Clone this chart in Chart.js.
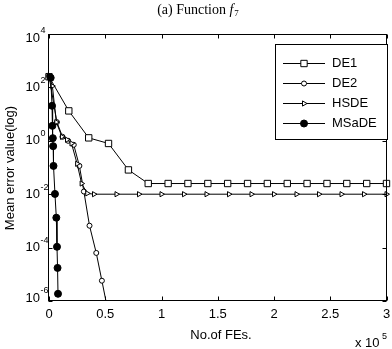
<!DOCTYPE html>
<html><head><meta charset="utf-8">
<script src="https://cdn.jsdelivr.net/npm/chart.js@4/dist/chart.umd.min.js"></script>
<style>html,body{margin:0;padding:0;background:#fff}#w{width:392px;height:349px;position:relative}</style>
</head><body><div id="w"><canvas id="c" width="392" height="349"></canvas></div>
<script>
// ---- data (x in units of 1e5 FEs, y as log10 of mean error) ----
const xTicks = [0, 0.5, 1, 1.5, 2, 2.5, 3];
const yTickExps = [4, 2, 0, -2, -4, -6];
const seriesNames = ['DE1', 'DE2', 'HSDE', 'MSaDE'];

const de1X = [0, 0.176, 0.353, 0.529, 0.706, 0.882, 1.059, 1.235, 1.412, 1.588, 1.765, 1.941, 2.118, 2.294, 2.471, 2.647, 2.824, 3.0];
const de1Log = [2.4, 1.12, 0.11, -0.1, -1.09, -1.6, -1.6, -1.6, -1.6, -1.6, -1.6, -1.6, -1.6, -1.6, -1.6, -1.6, -1.6, -1.6];

const de2X = [0, 0.07, 0.12, 0.17, 0.22, 0.27, 0.31, 0.36, 0.42, 0.47, 0.53];
const de2Log = [2.43, 0.7, 0.15, 0.0, -0.15, -0.94, -1.9, -3.18, -4.2, -5.24, -6.5];

const hsdeX = [0, 0.03, 0.065, 0.115, 0.16, 0.2, 0.25, 0.29, 0.34, 0.4, 0.6, 0.8, 1.0, 1.2, 1.4, 1.6, 1.8, 2.0, 2.2, 2.4, 2.6, 2.8, 3.0];
const hsdeLog = [2.43, 2.05, 0.7, 0.15, 0.04, -0.1, -0.86, -1.6, -1.97, -2, -2, -2, -2, -2, -2, -2, -2, -2, -2, -2, -2, -2, -2];

const msadeX = [0.015, 0.027, 0.03, 0.034, 0.037, 0.04, 0.053, 0.065, 0.071, 0.076, 0.08];
const msadeLog = [2.36, 1.31, 0.56, 0.1, -0.2, -0.94, -1.99, -2.88, -3.97, -4.76, -5.73];

// ---- build ----
function pts(xs, ls) { return xs.map((x, i) => ({ x: x, y: Math.pow(10, ls[i]) })); }
const common = { borderColor: '#000', borderWidth: 1, pointBorderColor: '#000', pointBorderWidth: 1, tension: 0, fill: false,
  clip: { left: 8, top: 8, right: 8, bottom: 0 } };
const styles = [
  { pointStyle: 'rect', pointRadius: 4.5, pointBackgroundColor: '#fff', pointRotation: 0, order: 3 },
  { pointStyle: 'circle', pointRadius: 2.5, pointBackgroundColor: '#fff', pointRotation: 0, order: 2 },
  { pointStyle: 'triangle', pointRadius: 3, pointBackgroundColor: '#fff', pointRotation: 90, order: 1 },
  { pointStyle: 'circle', pointRadius: 3.5, pointBackgroundColor: '#000', pointRotation: 0, order: 0 }
];
const seriesData = [pts(de1X, de1Log), pts(de2X, de2Log), pts(hsdeX, hsdeLog), pts(msadeX, msadeLog)];
const datasets = seriesNames.map((n, i) => Object.assign({}, common, styles[i], { label: n, data: seriesData[i] }));

const SANS = '"Liberation Sans", Arial, sans-serif';
const SERIF = '"Liberation Serif", "Times New Roman", serif';

const deco = {
  id: 'deco',
  afterDraw(chart) {
    const ctx = chart.ctx, a = chart.chartArea;
    const xs = chart.scales.x, ys = chart.scales.y;
    ctx.save();
    ctx.strokeStyle = '#000'; ctx.fillStyle = '#000'; ctx.lineWidth = 1;
    const L = Math.round(a.left) - 0.5, R = Math.round(a.right) - 0.5, T = Math.round(a.top) + 0.5, B = Math.round(a.bottom) - 0.5;
    ctx.strokeRect(L, T, R - L, B - T);
    // ticks
    ctx.beginPath();
    xTicks.forEach(v => {
      const x = Math.round(xs.getPixelForValue(v)) + 0.5;
      ctx.moveTo(x, B); ctx.lineTo(x, B - 4);
      ctx.moveTo(x, T); ctx.lineTo(x, T + 4);
    });
    yTickExps.forEach(e => {
      const y = Math.round(ys.getPixelForValue(Math.pow(10, e))) + 0.5;
      ctx.moveTo(L, y); ctx.lineTo(L + 4, y);
      ctx.moveTo(R, y); ctx.lineTo(R - 4, y);
    });
    ctx.stroke();
    // x tick labels
    ctx.font = '13px ' + SANS; ctx.textAlign = 'center'; ctx.textBaseline = 'middle';
    xTicks.forEach(v => { ctx.fillText(String(v), xs.getPixelForValue(v), 314); });
    // y tick labels
    yTickExps.forEach((e, i) => {
      let y = ys.getPixelForValue(Math.pow(10, e));
      if (i === 0) y += 4; else if (i === yTickExps.length - 1) y -= 3;
      ctx.font = '13px ' + SANS; ctx.textAlign = 'right'; ctx.textBaseline = 'middle';
      ctx.fillText('10', 40, y);
      ctx.font = '9px ' + SANS; ctx.textAlign = 'left'; ctx.textBaseline = 'middle';
      ctx.fillText(String(e), 40.5, y - 7);
    });
    // x title + multiplier
    ctx.font = '13px ' + SANS; ctx.textAlign = 'center'; ctx.textBaseline = 'middle';
    ctx.fillText('No.of FEs.', 221, 335);
    ctx.textAlign = 'left';
    ctx.fillText('x 10', 355, 343);
    ctx.font = '9px ' + SANS;
    ctx.fillText('5', 382, 337);
    // y title
    ctx.save();
    ctx.translate(10, 168); ctx.rotate(-Math.PI / 2);
    ctx.font = '13px ' + SANS; ctx.textAlign = 'center'; ctx.textBaseline = 'middle';
    ctx.fillText('Mean error value(log)', 0, 0);
    ctx.restore();
    // title
    const p1 = '(a) Function ', p2 = 'f', p3 = '7';
    ctx.textBaseline = 'alphabetic'; ctx.textAlign = 'left';
    ctx.font = '14px ' + SERIF; const w1 = ctx.measureText(p1).width;
    ctx.font = 'italic 14px ' + SERIF; const w2 = ctx.measureText(p2).width;
    ctx.font = '9px ' + SERIF; const w3 = ctx.measureText(p3).width;
    let tx = 198 - (w1 + w2 + w3 + 1) / 2;
    ctx.font = '14px ' + SERIF; ctx.fillText(p1, tx, 14); tx += w1;
    ctx.font = 'italic 14px ' + SERIF; ctx.fillText(p2, tx, 14); tx += w2 + 1;
    ctx.font = '9px ' + SERIF; ctx.fillText(p3, tx, 16);
    // legend
    ctx.fillStyle = '#fff';
    ctx.fillRect(275.5, 44.5, 112, 95);
    ctx.strokeStyle = '#000';
    ctx.strokeRect(275.5, 44.5, 112, 95);
    ctx.fillStyle = '#000';
    const ly = [63, 83, 103, 123];
    seriesNames.forEach((n, i) => {
      const y = ly[i] + 0.5;
      ctx.beginPath(); ctx.moveTo(283, y); ctx.lineTo(325, y); ctx.stroke();
      const st = styles[i];
      ctx.fillStyle = st.pointBackgroundColor; ctx.strokeStyle = '#000'; ctx.lineWidth = 1;
      Chart.helpers.drawPoint(ctx, { pointStyle: st.pointStyle, radius: st.pointRadius, rotation: st.pointRotation, borderWidth: 1 }, 304, y);
      ctx.fillStyle = '#000';
      ctx.font = '13px ' + SANS; ctx.textAlign = 'left'; ctx.textBaseline = 'middle';
      ctx.fillText(n, 332, y);
    });
    ctx.restore();
  }
};

new Chart(document.getElementById('c'), {
  type: 'line',
  data: { datasets: datasets },
  options: {
    responsive: false, animation: false, devicePixelRatio: 1,
    layout: { padding: { top: 34, right: 2, left: 0, bottom: 0 } },
    plugins: { legend: { display: false }, tooltip: { enabled: false }, title: { display: false } },
    scales: {
      x: { type: 'linear', min: 0, max: 3, grid: { display: false }, border: { display: false }, ticks: { display: false },
           afterBuildTicks: s => { s.ticks = xTicks.map(v => ({ value: v })); }, afterFit: s => { s.height = 48; } },
      y: { type: 'logarithmic', min: 1e-6, max: 1e4, grid: { display: false }, border: { display: false }, ticks: { display: false },
           afterBuildTicks: s => { s.ticks = yTickExps.map(e => ({ value: Math.pow(10, e) })); }, afterFit: s => { s.width = 49; } }
    }
  },
  plugins: [deco]
});
</script>
</body></html>
